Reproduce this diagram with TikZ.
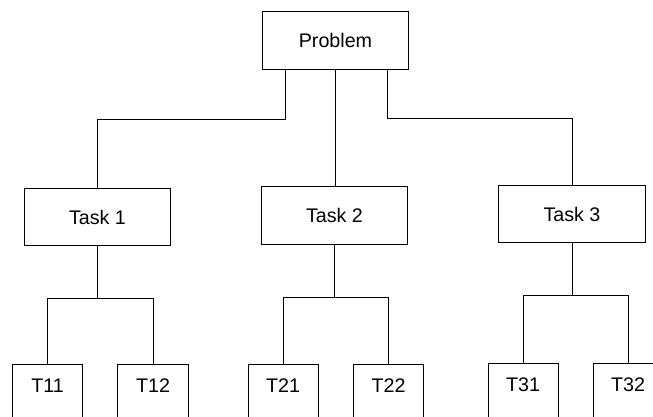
\documentclass[tikz,border=0pt]{standalone}
\usepackage{fontspec}
\setmainfont{Liberation Sans}
\usetikzlibrary{positioning}

\tikzset{
  box/.style={draw,line width=0.7pt,minimum width=3.65cm,minimum height=1.44cm,font=\fontsize{14}{16}\selectfont},
  leaf/.style={draw,line width=0.7pt,anchor=north,minimum width=1.75cm,inner ysep=0pt,text height=19.6pt,text depth=50pt,font=\fontsize{14}{16}\selectfont},
  link/.style={line width=0.6pt}
}

\begin{document}
\begin{tikzpicture}[x=0.025cm,y=-0.025cm]
\useasboundingbox (0,0) rectangle (653,416);
\clip (0,0) rectangle (653,416);
\node[box] (problem) at (335.5,40.5) {Problem};
\node[box] (task1) at (97.5,217) {Task 1};
\node[box] (task2) at (334.5,215.5) {Task 2};
\node[box] (task3) at (572,214) {Task 3};
\node[leaf] (t11) at (47.5,364) {T11};
\node[leaf] (t12) at (153,364) {T12};
\node[leaf] (t21) at (283,364) {T21};
\node[leaf] (t22) at (388.5,364) {T22};
\node[leaf] (t31) at (523,363) {T31};
\node[leaf] (t32) at (628,363) {T32};
\draw[link] ([xshift=-1.24cm]problem.south) |- ([yshift=1.7cm]task1.north) -- (task1.north);
\draw[link] (problem.south) -- (problem.south |- task2.north);
\draw[link] ([xshift=1.31cm]problem.south) |- ([yshift=1.65cm]task3.north) -- (task3.north);
\coordinate (j1) at ([yshift=-1.3cm]task1.south);
\coordinate (j2) at ([yshift=-1.325cm]task2.south);
\coordinate (j3) at ([yshift=-1.3cm]task3.south);
\draw[link] (task1.south) -- (j1) (j1) -| (t11.north) (j1) -| (t12.north);
\draw[link] (task2.south) -- (j2) (j2) -| (t21.north) (j2) -| (t22.north);
\draw[link] (task3.south) -- (j3) (j3) -| (t31.north) (j3) -| (t32.north);
\end{tikzpicture}
\end{document}
